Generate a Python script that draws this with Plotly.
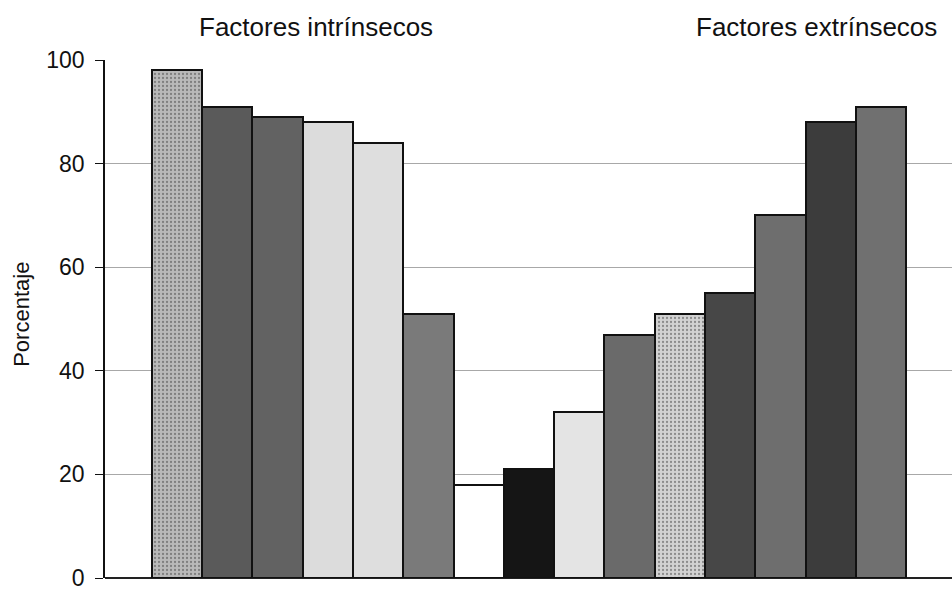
import plotly.graph_objects as go

# Percentage reported for each factor (left group: intrinsic, right group: extrinsic)
factors = [f"F{i}" for i in range(1, 16)]
values = [98, 91, 89, 88, 84, 51, 18, 21, 32, 47, 51, 55, 70, 88, 91]
fills = ["#b9b9b9", "#5a5a5a", "#626262", "#dcdcdc", "#dedede", "#7a7a7a",
         "#ffffff", "#151515", "#e4e4e4", "#6a6a6a", "#d2d2d2", "#474747",
         "#6e6e6e", "#3c3c3c", "#707070"]
patterns = [".", "", "", "", "", "", "", "", "", "", ".", "", "", "", ""]
y_ticks = [0, 20, 40, 60, 80, 100]
group_titles = ["Factores intrínsecos", "Factores extrínsecos"]
y_title = "Porcentaje"

x = list(range(len(factors)))

fig = go.Figure(go.Bar(
    x=x,
    y=values,
    width=1.0,
    marker=dict(
        color=fills,
        line=dict(color="#111111", width=2),
        pattern=dict(shape=patterns, fgcolor="#8a8a8a", size=4, solidity=0.25),
    ),
    hovertext=factors,
))

fig.update_layout(
    width=952,
    height=592,
    margin=dict(l=105, r=0, t=60, b=14, autoexpand=False),
    paper_bgcolor="white",
    plot_bgcolor="white",
    bargap=0,
    showlegend=False,
    font=dict(family="Liberation Sans, Arial, sans-serif", color="#111111"),
    xaxis=dict(
        range=[-1.43, 15.41],
        showticklabels=False,
        ticks="",
        showgrid=False,
        zeroline=False,
        showline=False,
        automargin=False,
    ),
    yaxis=dict(
        range=[0, 100],
        tickvals=y_ticks,
        ticks="outside",
        ticklen=8,
        tickcolor="#111111",
        tickfont=dict(size=23),
        ticklabelstandoff=6,
        ticklabeloverflow="allow",
        automargin=False,
        showline=True,
        linecolor="#111111",
        linewidth=1.5,
        showgrid=True,
        gridcolor="#a8a8a8",
        gridwidth=1,
        zeroline=True,
        zerolinecolor="#222222",
        zerolinewidth=1.5,
    ),
    annotations=[
        dict(text=group_titles[0], x=0.249, y=1.03, xref="paper", yref="paper",
             showarrow=False, font=dict(size=26), xanchor="center", yanchor="bottom"),
        dict(text=group_titles[1], x=0.84, y=1.03, xref="paper", yref="paper",
             showarrow=False, font=dict(size=26), xanchor="center", yanchor="bottom"),
        dict(text=y_title, x=-0.098, y=0.51, xref="paper", yref="paper",
             showarrow=False, font=dict(size=22), textangle=-90,
             xanchor="center", yanchor="middle"),
    ],
)

fig.write_html("out.html")
